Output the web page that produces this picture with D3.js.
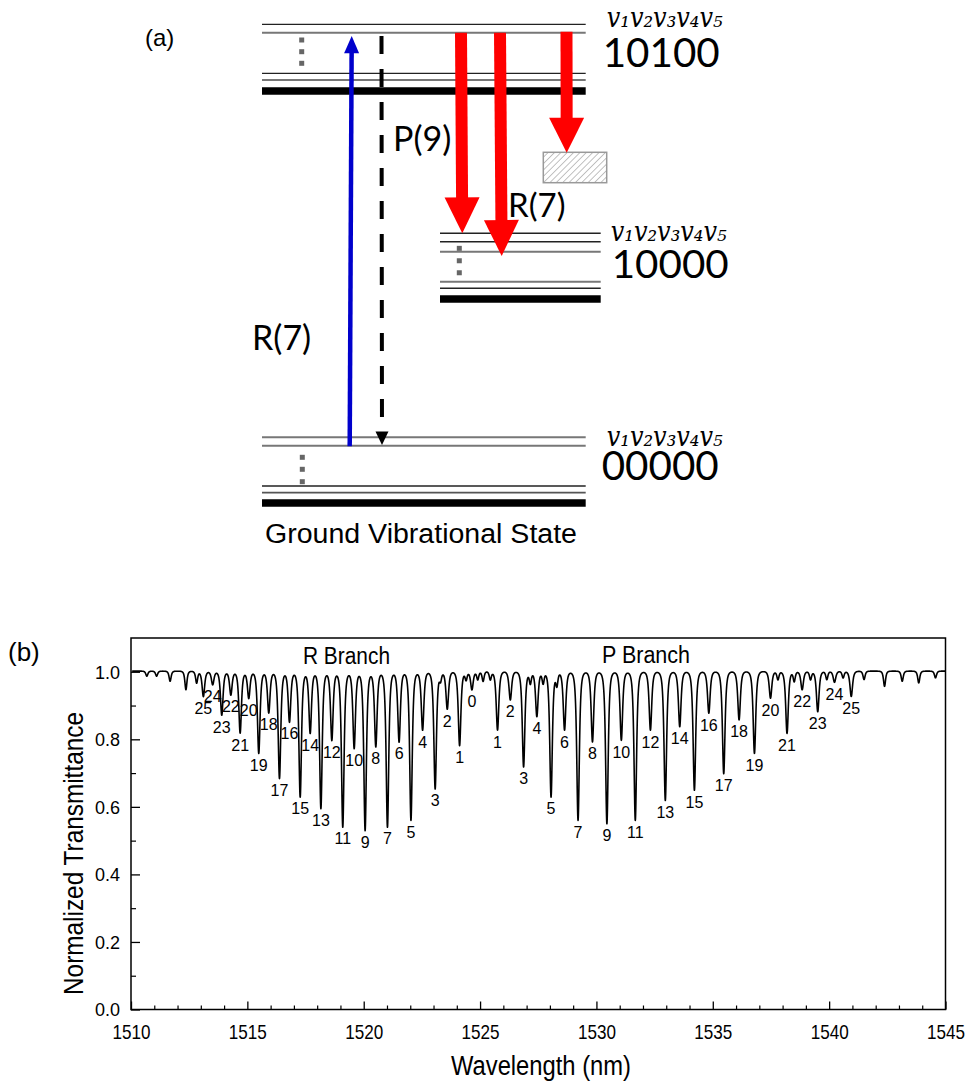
<!DOCTYPE html>
<html><head><meta charset="utf-8">
<script src="https://cdn.jsdelivr.net/npm/d3@7"></script>
<style>body{margin:0;background:#fff} svg{display:block}</style>
</head><body>
<svg id="fig" width="971" height="1086"></svg>
<script>
// ================= DATA: panel (b) spectrum =================
const rBranchJ   = [25,24,23,22,21,20,19,18,17,16,15,14,13,12,11,10,9,8,7,6,5,4,3,2,1,0];
const rBranchWl  = [1513.11,1513.51,1513.90,1514.29,1514.69,1515.06,1515.49,1515.92,1516.38,1516.81,1517.27,1517.70,1518.16,1518.63,1519.10,1519.59,1520.06,1520.52,1521.02,1521.52,1522.03,1522.53,1523.07,1523.59,1524.12,1524.65];
const rBranchMin = [0.925,0.96,0.87,0.93,0.817,0.92,0.757,0.877,0.683,0.85,0.628,0.817,0.594,0.796,0.539,0.772,0.529,0.777,0.539,0.791,0.559,0.826,0.652,0.888,0.78,0.945];
const pBranchJ   = [1,2,3,4,5,6,7,8,9,10,11,12,13,14,15,16,17,18,19,20,21,22,23,24,25];
const pBranchWl  = [1525.75,1526.30,1526.87,1527.44,1528.05,1528.63,1529.21,1529.83,1530.45,1531.07,1531.67,1532.32,1532.96,1533.58,1534.21,1534.83,1535.47,1536.13,1536.79,1537.48,1538.19,1538.84,1539.51,1540.23,1540.95];
const pBranchMin = [0.826,0.915,0.717,0.866,0.628,0.826,0.559,0.791,0.549,0.796,0.559,0.826,0.618,0.836,0.648,0.876,0.697,0.856,0.757,0.92,0.816,0.945,0.88,0.967,0.925];
const weakWl  = [1510.68,1511.10,1511.68,1512.36,1512.82,1523.30,1524.40,1524.90,1525.13,1525.44,1527.16,1527.71,1528.30,1537.80,1538.50,1539.20,1539.90,1540.60,1541.50,1542.38,1543.14,1543.85,1544.57];
const weakMin = [0.985,0.985,0.97,0.945,0.965,0.975,0.975,0.975,0.97,0.975,0.965,0.965,0.96,0.975,0.97,0.975,0.975,0.98,0.975,0.955,0.97,0.965,0.98];
const xTicksMajor = [1510,1515,1520,1525,1530,1535,1540,1545];
const xTicksMinor = d3.range(1511,1545,1).filter(v=>v%5!==0);
const yTicksMajor = [0.0,0.2,0.4,0.6,0.8,1.0];
const yTicksMinor = [0.1,0.3,0.5,0.7,0.9];
const branchNames = ["R Branch","P Branch"];

// ================= DATA: panel (a) diagram =================
const stateLabels = ["10100","10000","00000"];
const stateEnergy = [1.0, 0.495, 0.0];
const modeLabel = "v\u2081v\u2082v\u2083v\u2084v\u2085";
const transitionLabels = ["P(9)","R(7)","R(7)"];

const svg = d3.select("#fig");

// ================= PANEL (b) =================
const x = d3.scaleLinear().domain([1510,1545]).range([131,945.5]);
const y = d3.scaleLinear().domain([0,1.1]).range([1009.5,638]);
const gB = svg.append("g");

gB.append("rect").attr("x",x(1510)).attr("y",y(1.1))
  .attr("width",x(1545)-x(1510)).attr("height",y(0)-y(1.1))
  .attr("fill","none").attr("stroke","#000").attr("stroke-width",1.5);

const gx = gB.append("g").attr("transform",`translate(0,${y(0)})`)
  .call(d3.axisBottom(x).tickValues(xTicksMajor).tickSize(-8).tickFormat(d3.format("d")));
gx.select(".domain").remove();
gx.selectAll("line").attr("stroke","#000").attr("stroke-width",1.3);
gx.selectAll("text").attr("y",29.5).attr("dy",null)
  .attr("font-family","Liberation Sans, Arial, sans-serif").attr("font-size",21)
  .attr("textLength",38).attr("lengthAdjust","spacingAndGlyphs").attr("fill","#000");
const gxm = gB.append("g").attr("transform",`translate(0,${y(0)})`)
  .call(d3.axisBottom(x).tickValues(xTicksMinor).tickSize(-4).tickFormat(""));
gxm.select(".domain").remove();
gxm.selectAll("line").attr("stroke","#000").attr("stroke-width",1.2);

const gy = gB.append("g").attr("transform",`translate(${x(1510)},0)`)
  .call(d3.axisLeft(y).tickValues(yTicksMajor).tickSize(-9).tickFormat(d3.format(".1f")));
gy.select(".domain").remove();
gy.selectAll("line").attr("stroke","#000").attr("stroke-width",1.3);
gy.selectAll("text").attr("x",-11).attr("dy","0.36em")
  .attr("font-family","Liberation Sans, Arial, sans-serif").attr("font-size",18).attr("fill","#000");
const gym = gB.append("g").attr("transform",`translate(${x(1510)},0)`)
  .call(d3.axisLeft(y).tickValues(yTicksMinor).tickSize(-5).tickFormat(""));
gym.select(".domain").remove();
gym.selectAll("line").attr("stroke","#000").attr("stroke-width",1.2);

// absorption lines -> transmittance curve (squared-Lorentzian line shapes)
const lines = [];
rBranchWl.forEach((w,i)=>lines.push({wl:w, d:1-rBranchMin[i], hw:0.1}));
pBranchWl.forEach((w,i)=>lines.push({wl:w, d:1-pBranchMin[i], hw:0.1}));
weakWl.forEach((w,i)=>lines.push({wl:w, d:1-weakMin[i], hw:0.08}));
function transmit(l){
  let t = 1.002;
  for (const L of lines){
    const u = (l-L.wl)/L.hw;
    if (Math.abs(u) > 40) continue;
    const q = 1+u*u;
    t *= 1 - L.d/(q*q);
  }
  return t;
}
const samples = d3.range(1510.05,1545.0,0.004).concat(lines.map(L=>L.wl)).sort((a,b)=>a-b);
const spectrum = samples.map(l=>({wl:l, t:transmit(l)}));
gB.append("path").datum(spectrum)
  .attr("d", d3.line().x(d=>x(d.wl)).y(d=>y(d.t)))
  .attr("fill","none").attr("stroke","#000").attr("stroke-width",1.6).attr("stroke-linejoin","round");

// line labels
const lblFont = "Liberation Sans, Arial, sans-serif";
rBranchJ.forEach((j,i)=>{
  gB.append("text").attr("x",x(rBranchWl[i])).attr("y",y(rBranchMin[i])+17)
    .attr("text-anchor","middle").attr("font-family",lblFont).attr("font-size",16).text(j);
});
pBranchJ.forEach((j,i)=>{
  gB.append("text").attr("x",x(pBranchWl[i])).attr("y",y(pBranchMin[i])+17)
    .attr("text-anchor","middle").attr("font-family",lblFont).attr("font-size",16).text(j);
});
gB.append("text").attr("x",346.5).attr("y",664).attr("text-anchor","middle")
  .attr("font-family",lblFont).attr("font-size",23).attr("textLength",87).attr("lengthAdjust","spacingAndGlyphs").text(branchNames[0]);
gB.append("text").attr("x",646).attr("y",663).attr("text-anchor","middle")
  .attr("font-family",lblFont).attr("font-size",23).attr("textLength",88).attr("lengthAdjust","spacingAndGlyphs").text(branchNames[1]);

gB.append("text").attr("transform","translate(83,853.5) rotate(-90)").attr("text-anchor","middle")
  .attr("font-family",lblFont).attr("font-size",27).attr("textLength",283).attr("lengthAdjust","spacingAndGlyphs")
  .text("Normalized Transmittance");
gB.append("text").attr("x",541).attr("y",1075).attr("text-anchor","middle")
  .attr("font-family",lblFont).attr("font-size",27).attr("textLength",180).attr("lengthAdjust","spacingAndGlyphs")
  .text("Wavelength (nm)");
gB.append("text").attr("x",8).attr("y",661).attr("font-family",lblFont).attr("font-size",26).text("(b)");

// ================= PANEL (a) =================
const gA = svg.append("g");
const eY = d3.scaleLinear().domain([0,1]).range([503,91]);
const lato = "Lato, 'Open Sans', sans-serif";

function hline(x1,x2,yy,w,c){
  gA.append("line").attr("x1",x1).attr("x2",x2).attr("y1",yy).attr("y2",yy)
    .attr("stroke",c).attr("stroke-width",w);
}
function dots(cx,ys){
  ys.forEach(yy=>gA.append("rect").attr("x",cx-2.5).attr("y",yy-2.5).attr("width",5).attr("height",5).attr("fill","#666"));
}
// state geometry (x extents, sublevel offsets above the thick line)
const stateGeom = [
  {x1:262, x2:585.7, subs:[[-66.7,1.3,"#222"],[-58.3,2,"#777"],[-17.7,1.3,"#222"],[-11,2,"#777"]], dotX:301.7, dotOff:[-51,-39.3,-27.7]},
  {x1:440, x2:600.7, subs:[[-65.7,1.5,"#222"],[-57.3,1.5,"#222"],[-47.3,2,"#777"],[-17.3,2,"#777"],[-10.7,1.5,"#222"]], dotX:459.3, dotOff:[-50.7,-38.3,-26.3]},
  {x1:262, x2:585.7, subs:[[-65.7,2,"#777"],[-57.3,2,"#777"],[-17,1.5,"#222"],[-10.3,1.8,"#555"]], dotX:302.3, dotOff:[-45.7,-33.7,-21.3]}
];
stateGeom.forEach((g,i)=>{
  const base = eY(stateEnergy[i]);
  g.subs.forEach(s=>hline(g.x1,g.x2,base+s[0],s[1],s[2]));
  hline(g.x1,g.x2,base,7.5,"#000");
  dots(g.dotX, g.dotOff.map(o=>base+o));
});

// state labels
const labelGeom = [
  {vx:606.7, vy:-65, nx:602.7, ny:-24.3, fs:41},
  {vx:610.7, vy:-59, nx:611.7, ny:-20.7, fs:39},
  {vx:606.7, vy:-58, nx:601.7, ny:-23,   fs:40}
];
labelGeom.forEach((g,i)=>{
  const base = eY(stateEnergy[i]);
  gA.append("text").attr("x",g.vx).attr("y",base+g.vy+1)
    .attr("font-family","'DejaVu Serif', 'Liberation Serif', serif").attr("font-style","italic").attr("font-size",27)
    .attr("textLength",116).attr("lengthAdjust","spacingAndGlyphs").text(modeLabel);
  gA.append("text").attr("x",g.nx).attr("y",base+g.ny).attr("font-family",lato).attr("font-size",g.fs)
    .attr("textLength",117).attr("lengthAdjust","spacingAndGlyphs").text(stateLabels[i]);
});

// arrows
function arrow(x1,y1,x2,y2,o){
  const dx=x2-x1, dy=y2-y1, L=Math.hypot(dx,dy), ux=dx/L, uy=dy/L;
  const bx=x2-ux*o.headLen, by=y2-uy*o.headLen;
  const sh = gA.append("line").attr("x1",x1).attr("y1",y1).attr("x2",bx+ux*1).attr("y2",by+uy*1)
    .attr("stroke",o.color).attr("stroke-width",o.width);
  if (o.dash) sh.attr("stroke-dasharray",o.dash);
  const px=-uy, py=ux, hw=o.headW/2;
  gA.append("path").attr("d",`M${x2},${y2}L${bx+px*hw},${by+py*hw}L${bx-px*hw},${by-py*hw}Z`).attr("fill",o.color);
}
// hatched box
const defs = svg.append("defs");
const pat = defs.append("pattern").attr("id","hatch").attr("patternUnits","userSpaceOnUse")
  .attr("width",4.5).attr("height",4.5).attr("patternTransform","rotate(45)");
pat.append("rect").attr("width",4.5).attr("height",4.5).attr("fill","#fff");
pat.append("line").attr("x1",0).attr("y1",0).attr("x2",0).attr("y2",4.5).attr("stroke","#a0a0a0").attr("stroke-width",1.3);
gA.append("rect").attr("x",543.3).attr("y",152.3).attr("width",63.4).attr("height",30.4)
  .attr("fill","url(#hatch)").attr("stroke","#999").attr("stroke-width",1.5);

const topY = eY(1)-58.3, midY = eY(stateEnergy[1])-65.7, grY = eY(0)-57.3;
arrow(349.7, grY+0.5, 351.7, 36, {color:"#0000cc", width:4.5, headLen:17.3, headW:15});
arrow(381.5, 36, 382, grY-0.7, {color:"#000", width:4, headLen:13.5, headW:13, dash:"18,15"});
arrow(461, topY, 462.3, midY, {color:"#ff0000", width:12, headLen:36, headW:35});
arrow(500, topY, 501.7, 256, {color:"#ff0000", width:12, headLen:36, headW:35});
arrow(566.5, topY-1, 566.7, 152.7, {color:"#ff0000", width:12, headLen:35, headW:35});

// transition labels
gA.append("text").attr("x",393).attr("y",151).attr("font-family",lato).attr("font-size",34).text(transitionLabels[0]);
gA.append("text").attr("x",508).attr("y",217).attr("font-family",lato).attr("font-size",33).text(transitionLabels[1]);
gA.append("text").attr("x",252).attr("y",350).attr("font-family",lato).attr("font-size",34).text(transitionLabels[2]);

gA.append("text").attr("x",265).attr("y",543).attr("font-family",lblFont).attr("font-size",27)
  .attr("textLength",312).attr("lengthAdjust","spacingAndGlyphs").text("Ground Vibrational State");
gA.append("text").attr("x",145).attr("y",46).attr("font-family",lblFont).attr("font-size",24).text("(a)");
</script>
</body></html>
